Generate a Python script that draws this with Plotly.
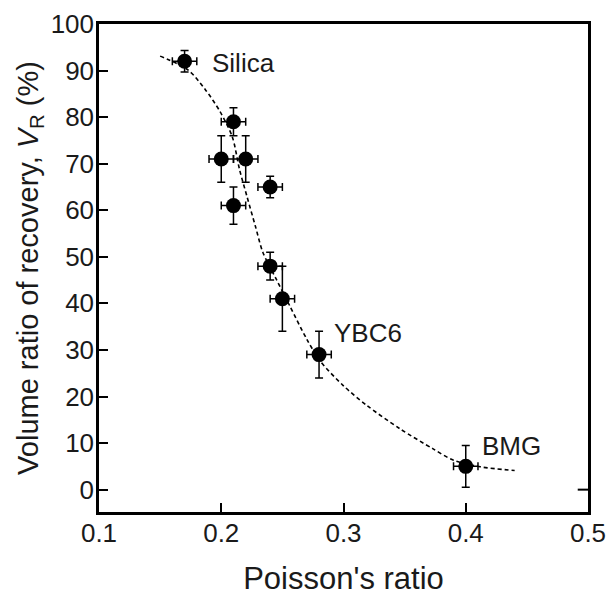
import plotly.graph_objects as go

# Measured data
poisson = [0.17, 0.21, 0.20, 0.22, 0.24, 0.21, 0.24, 0.25, 0.28, 0.40]
vr = [92, 79, 71, 71, 65, 61, 48, 41, 29, 5]
vr_err = [2.3, 3.0, 5.0, 5.0, 2.3, 4.0, 3.0, 7.0, 5.0, 4.5]
poisson_err = [0.01, 0.01, 0.01, 0.01, 0.01, 0.01, 0.01, 0.01, 0.01, 0.01]

# Fitted dashed curve
fit_x = [0.150, 0.173, 0.187, 0.199, 0.209, 0.215, 0.221, 0.228, 0.234, 0.245,
         0.256, 0.270, 0.281, 0.300, 0.319, 0.346, 0.373, 0.390, 0.412, 0.440]
fit_y = [93.1, 90.1, 85.9, 81.2, 75.8, 68.7, 63.0, 56.5, 51.0, 45.2,
         39.5, 32.3, 27.6, 22.3, 18.1, 13.1, 8.8, 6.3, 4.9, 4.1]

# Labels
label_text = ["Silica", "YBC6", "BMG"]
label_x = [0.1908, 0.2906, 0.4117]
label_y = [91.6, 33.6, 9.4]

x_ticks = [0.1, 0.2, 0.3, 0.4, 0.5]
y_ticks = [0, 10, 20, 30, 40, 50, 60, 70, 80, 90, 100]

FONT = "Liberation Sans, Arial, sans-serif"
TXT = "#1a1a1a"

fig = go.Figure()
fig.add_trace(go.Scatter(
    x=fit_x, y=fit_y, mode="lines",
    line=dict(color="black", width=1.6, dash="4px,3px", shape="spline", smoothing=0.8),
    hoverinfo="skip", showlegend=False))
fig.add_trace(go.Scatter(
    x=poisson, y=vr, mode="markers",
    marker=dict(color="black", size=15, line=dict(width=0)),
    error_y=dict(type="data", array=vr_err, color="black", thickness=1.5, width=4),
    error_x=dict(type="data", array=poisson_err, color="black", thickness=1.5, width=4),
    showlegend=False))

for t, x, y in zip(label_text, label_x, label_y):
    fig.add_annotation(x=x, y=y, text=t, showarrow=False, xanchor="left", yanchor="middle",
                       font=dict(family=FONT, size=26, color=TXT))

# right-side tick at y=0
fig.add_shape(type="line", xref="paper", yref="y", x0=0.979, x1=1.0, y0=0, y1=0,
              line=dict(color="black", width=2))

fig.update_xaxes(range=[0.1, 0.5], tickvals=x_ticks, ticktext=[f"{v:.1f}" for v in x_ticks],
                 automargin=False,
                 showgrid=False, zeroline=False, showline=True, linecolor="black", linewidth=2.5,
                 mirror=True, ticks="inside", ticklen=9, tickwidth=2, tickcolor="black",
                 ticklabelstandoff=-4,
                 tickfont=dict(family=FONT, size=26, color=TXT),
                 title=dict(text="Poisson's ratio", font=dict(family=FONT, size=31, color=TXT), standoff=28))
fig.update_yaxes(range=[-4.8, 100], tickvals=y_ticks,
                 automargin=False,
                 showgrid=False, zeroline=False, showline=True, linecolor="black", linewidth=2.5,
                 mirror=True, ticks="inside", ticklen=9, tickwidth=2, tickcolor="black",
                 ticklabelstandoff=-3,
                 tickfont=dict(family=FONT, size=26, color=TXT),
                 title=dict(text="Volume ratio of recovery, <i>V</i><sub>R</sub> (%)",
                            font=dict(family=FONT, size=29, color=TXT), standoff=4))

fig.update_layout(width=609, height=596, plot_bgcolor="white", paper_bgcolor="white",
                  margin=dict(l=99, r=21, t=24, b=84), showlegend=False)

# remove the page's default body margin so the figure fills the window exactly
fig.write_html("out.html", config={"displayModeBar": False},
               post_script="document.body.style.margin='0';document.body.style.overflow='hidden';")
